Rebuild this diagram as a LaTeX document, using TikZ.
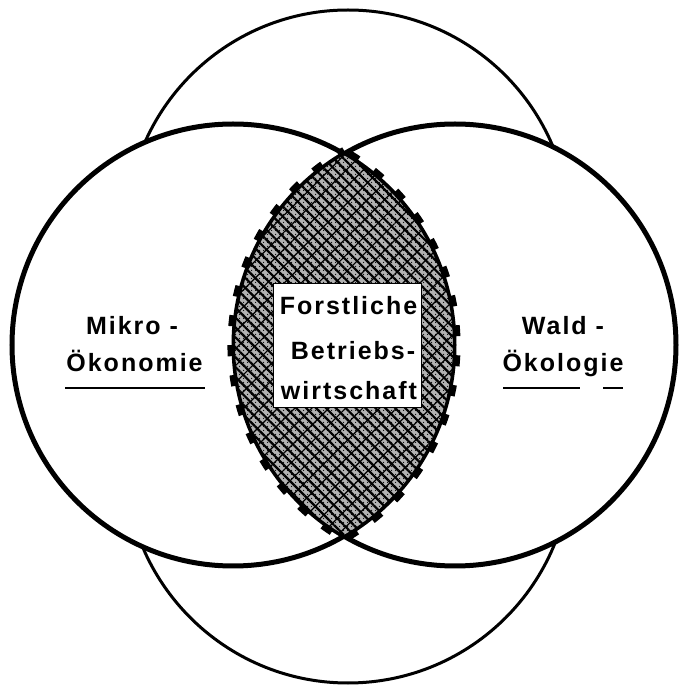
\documentclass[tikz,border=0pt]{standalone}
\usepackage{fontspec}
\setmainfont{Liberation Sans}
\usetikzlibrary{patterns.meta}
\newcommand\lenspath{(344,532) arc[start angle=120.16, end angle=239.84, radius=221] arc[start angle=-59.84, end angle=59.84, radius=221] -- cycle}
\newcommand\lensouter{(344,535.6) arc[start angle=119.7, end angle=240.3, radius=224] arc[start angle=-60.3, end angle=60.3, radius=224]}
\begin{document}
\begin{tikzpicture}[x=1pt,y=1pt,
  thickc/.style={line width=5pt},
  thinc/.style={line width=3pt},
  lbl/.style={font=\fontsize{25}{30}\selectfont\bfseries\addfontfeatures{LetterSpace=8}, inner sep=0pt, anchor=base},
  ul/.style={line width=2.5pt},
  lensdash/.style={line width=7pt, dash pattern=on 11pt off 19pt, dash phase=4pt}]
\useasboundingbox (0,0) rectangle (678,686);
% thin circles (top and bottom)
\draw[thinc] (348,454) circle[radius=222];
\draw[thinc] (348,226) circle[radius=223];
% thick circles (left and right)
\fill[white] (233,341) circle[radius=221] (455,341) circle[radius=221];
\draw[thickc] (233,341) circle[radius=221];
\draw[thickc] (455,341) circle[radius=221];
% lens
\path[fill=gray!60] \lenspath;
\path[pattern={Lines[angle=-45,distance=7pt,line width=2.2pt]}] \lenspath;
\path[pattern={Lines[angle=45,distance=12pt,line width=1.2pt]}] \lenspath;
\path[pattern={Dots[distance=4pt,radius=0.8pt]}] \lenspath;
\draw[line width=2pt] \lenspath;
\draw[lensdash] \lensouter;
% central box
\node[draw, fill=white, line width=1pt, minimum width=148pt, minimum height=124pt, inner sep=0pt] (box) at (347,340) {};
\node[lbl] (t1) at (348.5,371) {Forstliche};
\node[lbl] (t2) at (353,326) {Betriebs-};
\node[lbl] (t3) at (349,286) {wirtschaft};
% left labels
\node[lbl] (m1) at (132,351) {Mikro -};
\node[lbl] (m2) at (134.5,314) {Ökonomie};
\draw[ul] (65,298) -- (205,298);
% right labels
\node[lbl] (w1) at (563,351) {Wald -};
\node[lbl] (w2) at (563,314) {Ökologie};
\draw[ul] (503,298) -- (580,298);
\draw[ul] (603,298) -- (623,298);
\end{tikzpicture}
\end{document}
